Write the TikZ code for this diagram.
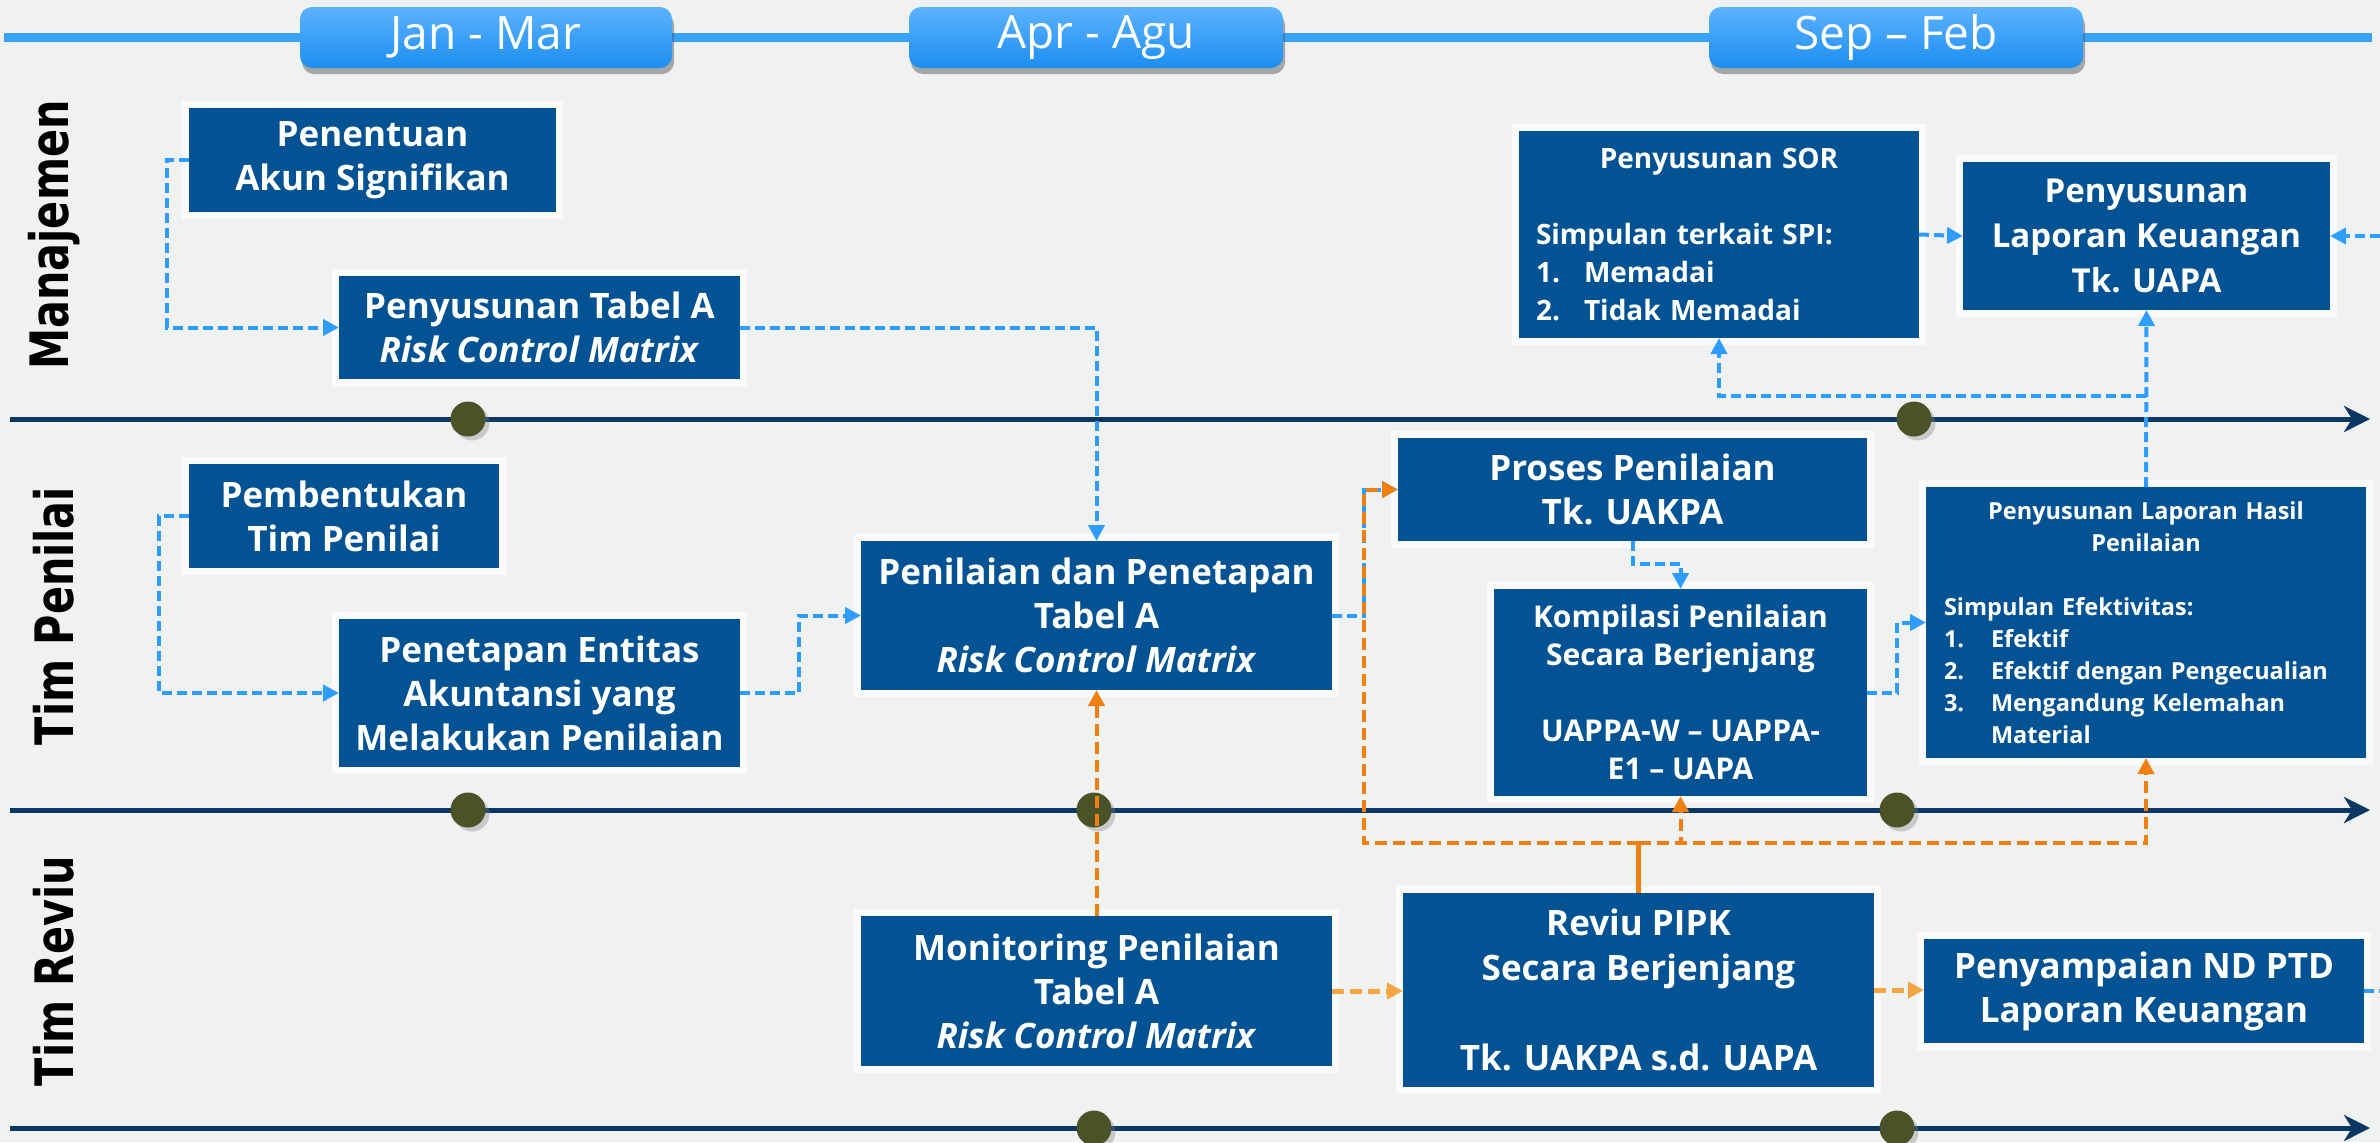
\documentclass[tikz,border=0pt]{standalone}
\usepackage{fontspec}
\setmainfont{Open Sans}
\newfontfamily\lanefont{DejaVu Sans}
\usetikzlibrary{arrows.meta,shadows,calc}
\definecolor{cBox}{RGB}{3,82,148}
\definecolor{cDot}{RGB}{74,82,40}
\definecolor{cNavy}{RGB}{10,55,100}
\definecolor{cOrange}{RGB}{238,127,16}
\definecolor{cLOrange}{RGB}{245,165,66}
\definecolor{cBlue}{RGB}{47,157,255}
\definecolor{cHdrLine}{RGB}{56,163,255}
\definecolor{cHdrTop}{RGB}{92,178,255}
\definecolor{cHdrBot}{RGB}{28,142,240}
\definecolor{cBg}{RGB}{240,241,241}
\tikzset{
  procbox/.style={fill=cBox, text=white, inner sep=0pt, outer sep=0pt,
    preaction={draw=white, line width=7pt, opacity=.7},
    font=\bfseries\fontsize{17.5}{22}\selectfont, align=center},
  hdrbox/.style={rounded corners=6pt, top color=cHdrTop, bottom color=cHdrBot,
    text=white, font=\fontsize{23}{28}\selectfont, inner sep=0pt,
    drop shadow={shadow xshift=1pt, shadow yshift=-3pt, opacity=.45, fill=black!70}},
  lanelbl/.style={rotate=90, font=\lanefont\bfseries\fontsize{26.5}{30}\selectfont, text=black},
  laneline/.style={draw=cNavy, line width=2.5pt, -{Stealth[length=13pt,width=13pt,inset=4pt]}},
  lanedot/.style={circle, fill=cDot, minimum size=17.5pt, inner sep=0pt,
    drop shadow={shadow xshift=2pt, shadow yshift=-2pt, opacity=.35}},
  bluelink/.style={draw=cBlue, line width=2pt, dash pattern=on 5pt off 2.5pt, -{Triangle[length=8pt,width=8pt]}},
  orangelink/.style={draw=cOrange, line width=2pt, dash pattern=on 6pt off 3pt, -{Triangle[length=8pt,width=8pt]}},
  lorangelink/.style={draw=cLOrange, line width=2.5pt, dash pattern=on 6pt off 3pt, -{Triangle[length=8pt,width=8pt]}},
}
\newcommand{\flowbox}[7][]{%
  \node[procbox, minimum width={(#5-#3)*0.5pt}, minimum height={(#6-#4)*0.5pt}, #1]
    (#2) at ({(#3+#5)/2},{(#4+#6)/2}) {#7};}
\begin{document}
\begin{tikzpicture}[x=0.5pt,y=-0.5pt]
\fill[cBg] (0,0) rectangle (2380,1142);
\useasboundingbox (0,0) rectangle (2380,1142);
% header timeline
\coordinate (hs) at (4,37);
\coordinate (he) at (2372,37);
\draw[cHdrLine, line width=4.5pt] (hs) -- (he);
\node[hdrbox, minimum width=186pt, minimum height=30.5pt] (hA) at (486,37.5) {Jan - Mar};
\node[hdrbox, minimum width=187pt, minimum height=30.5pt] (hB) at (1096,37.5) {Apr - Agu};
\node[hdrbox, minimum width=187pt, minimum height=30.5pt] (hC) at (1896,37.5) {Sep – Feb};
% lane lines
\coordinate (l1s) at (10,419);  \coordinate (l1e) at (2370,419);
\coordinate (l2s) at (10,810);  \coordinate (l2e) at (2370,810);
\coordinate (l3s) at (10,1128); \coordinate (l3e) at (2370,1128);
\draw[laneline] (l1s) -- (l1e);
\draw[laneline] (l2s) -- (l2e);
\draw[laneline] (l3s) -- (l3e);
\node[lanedot] (d1) at (468,419) {};
\node[lanedot] (d2) at (1914,419) {};
\node[lanedot] (d3) at (468,810) {};
\node[lanedot] (d4) at (1094,810) {};
\node[lanedot] (d5) at (1897,810) {};
\node[lanedot] (d6) at (1094,1128) {};
\node[lanedot] (d7) at (1897,1128) {};
% lane labels
\node[lanelbl] (lbA) at (54,235) {\scalebox{0.78}[1]{Manajemen}};
\node[lanelbl] (lbB) at (54,616) {\scalebox{0.78}[1]{Tim Penilai}};
\node[lanelbl] (lbC) at (54,971) {\scalebox{0.78}[1]{Tim Reviu}};
% boxes
\flowbox{penentuan}{189}{108}{556}{212}{Penentuan\\Akun Signifikan}
\flowbox{tabA}{339}{276}{740}{379}{Penyusunan Tabel A\\\textit{Risk Control Matrix}}
\flowbox{pembentukan}{189}{464}{499}{568}{Pembentukan\\Tim Penilai}
\flowbox{penetapan}{339}{619}{740}{767}{Penetapan Entitas\\Akuntansi yang\\Melakukan Penilaian}
\flowbox{penilaian}{861}{541}{1332}{690}{Penilaian dan Penetapan\\Tabel A\\\textit{Risk Control Matrix}}
\flowbox{monitoring}{861}{916}{1332}{1066}{Monitoring Penilaian\\Tabel A\\\textit{Risk Control Matrix}}
\flowbox{proses}{1398}{438}{1867}{541}{Proses Penilaian\\Tk. UAKPA}
\flowbox[font=\bfseries\fontsize{15}{19}\selectfont]{komp}{1494}{589}{1867}{796}{Kompilasi Penilaian\\Secara Berjenjang\\[19pt]UAPPA-W – UAPPA-\\E1 – UAPA}
\flowbox[font=\bfseries\fontsize{11.75}{16}\selectfont, text width=202pt, align=left]{hasil}{1926}{487}{2366}{758}{%
\makebox[\linewidth]{Penyusunan Laporan Hasil}\\
\makebox[\linewidth]{Penilaian}\\[16pt]
Simpulan Efektivitas:\\
\makebox[23.5pt][l]{1.}Efektif\\
\makebox[23.5pt][l]{2.}Efektif dengan Pengecualian\\
\makebox[23.5pt][l]{3.}Mengandung Kelemahan\\
\hspace*{23.5pt}Material}
\flowbox[font=\bfseries\fontsize{14}{19}\selectfont, text width=183pt, align=left]{sor}{1519}{131}{1919}{338}{%
\makebox[\linewidth]{Penyusunan SOR}\\[19pt]
Simpulan terkait SPI:\\
\makebox[24pt][l]{1.}Memadai\\
\makebox[24pt][l]{2.}Tidak Memadai}
\flowbox[font=\bfseries\fontsize{16.5}{22.5}\selectfont]{lk}{1963}{162}{2330}{310}{Penyusunan\\Laporan Keuangan\\Tk. UAPA}
\flowbox[font=\bfseries\fontsize{17.5}{22.5}\selectfont]{reviu}{1403}{893}{1874}{1087}{Reviu PIPK\\Secara Berjenjang\\[22.5pt]Tk. UAKPA s.d. UAPA}
\flowbox{nd}{1924}{939}{2364}{1043}{Penyampaian ND PTD\\Laporan Keuangan}
% blue connectors
\draw[bluelink] (penentuan.west) -- ++(-22,0) |- (tabA.west);
\draw[bluelink] (tabA.east) -| (penilaian.north);
\draw[bluelink] (pembentukan.west) -- ++(-30,0) |- (penetapan.west);
\draw[bluelink] (penetapan.east) -- ++(59,0) |- (penilaian.west);
\coordinate (px) at ($(penilaian.east)+(32,0)$);
\draw[bluelink] (penilaian.east) -- (px) |- (proses.west);
\draw[bluelink] (proses.south) -- ++(0,23) -| (komp.north);
\draw[bluelink] (komp.east) -- ++(30,0) |- (hasil.west);
\draw[bluelink] (hasil.north) -- (lk.south);
\coordinate (bj) at ($(hasil.north)+(0,-91)$);
\draw[bluelink] (bj) -| (sor.south);
\draw[bluelink] (sor.east) -- (lk.west);
\coordinate (rin) at (2380,236);
\draw[bluelink] (rin) -- (lk.east);
\coordinate (rout) at (2380,991);
\draw[bluelink,-] (nd.east) -- (rout);
% orange connectors
\coordinate (oj) at ($(reviu.north)+(0,-50)$);
\draw[cOrange, line width=2.4pt] (reviu.north) -- (oj);
\draw[orangelink] (oj) -| (px) |- (proses.west);
\draw[orangelink] (oj) -| (komp.south);
\draw[orangelink] (oj) -| (hasil.south);
\draw[orangelink] (monitoring.north) -- (penilaian.south);
\draw[lorangelink] (monitoring.east) -- (monitoring.east -| reviu.west);
\draw[lorangelink] (reviu.east) -- (reviu.east -| nd.west);
\end{tikzpicture}
\end{document}
